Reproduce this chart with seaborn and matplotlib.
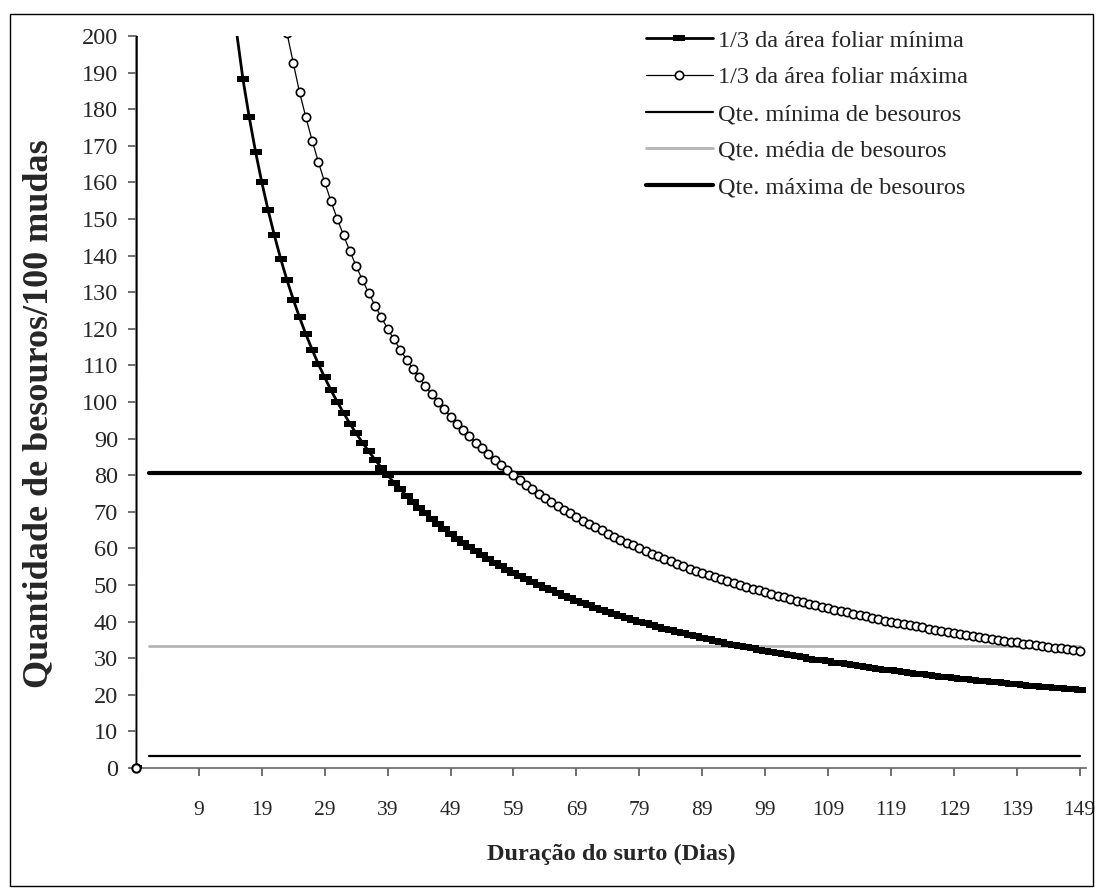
import matplotlib
matplotlib.use("Agg")
import matplotlib.pyplot as plt
import seaborn as sns
import pandas as pd
from matplotlib.patches import Rectangle

# ---------------- data ----------------
days = list(range(0, 151))  # category positions (0 = origin point)

min_leaf = [0,
    3200, 1600, 1066.7, 800, 640, 533.3, 457.1, 400, 355.6, 320,
    290.9, 266.7, 246.2, 228.6, 213.3, 200.9, 188.2, 177.8, 168.4, 160,
    152.4, 145.5, 139.1, 133.3, 128, 123.1, 118.5, 114.3, 110.3, 106.7,
    103.2, 100, 97.0, 94.1, 91.4, 88.9, 86.5, 84.2, 82.1, 80,
    78.0, 76.2, 74.4, 72.7, 71.1, 69.6, 68.1, 66.7, 65.3, 64,
    62.7, 61.5, 60.4, 59.3, 58.2, 57.1, 56.1, 55.2, 54.2, 53.3,
    52.5, 51.6, 50.8, 50, 49.2, 48.5, 47.8, 47.1, 46.4, 45.7,
    45.1, 44.4, 43.8, 43.2, 42.7, 42.1, 41.6, 41.0, 40.5, 40,
    39.5, 39.0, 38.6, 38.1, 37.6, 37.2, 36.8, 36.4, 36.0, 35.6,
    35.2, 34.8, 34.4, 34.0, 33.7, 33.3, 33.0, 32.7, 32.3, 32,
    31.7, 31.4, 31.1, 30.8, 30.5, 30.2, 29.9, 29.6, 29.4, 29.1,
    28.8, 28.6, 28.3, 28.1, 27.8, 27.6, 27.4, 27.1, 26.9, 26.7,
    26.4, 26.2, 26.0, 25.8, 25.6, 25.4, 25.2, 25, 24.8, 24.6,
    24.4, 24.2, 24.1, 23.9, 23.7, 23.5, 23.4, 23.2, 23.0, 22.9,
    22.7, 22.5, 22.4, 22.2, 22.1, 21.9, 21.8, 21.6, 21.5, 21.3]

max_leaf = [0,
    4800, 2400, 1600, 1200, 960, 800, 685.7, 600, 533.3, 480,
    436.4, 400, 369.2, 342.9, 320, 300, 282.4, 266.7, 252.6, 240,
    228.6, 218.2, 208.7, 200.8, 192.6, 184.6, 177.8, 171.4, 165.5, 160,
    154.8, 150, 145.5, 141.2, 137.1, 133.3, 129.7, 126.3, 123.1, 120,
    117.1, 114.3, 111.6, 109.1, 106.7, 104.3, 102.1, 100, 98.0, 96,
    94.1, 92.3, 90.6, 88.9, 87.3, 85.7, 84.2, 82.8, 81.4, 80,
    78.7, 77.4, 76.2, 75, 73.8, 72.7, 71.6, 70.6, 69.6, 68.6,
    67.6, 66.7, 65.8, 64.9, 64, 63.2, 62.3, 61.5, 60.8, 60,
    59.3, 58.5, 57.8, 57.1, 56.5, 55.8, 55.2, 54.5, 53.9, 53.3,
    52.7, 52.2, 51.6, 51.1, 50.5, 50, 49.5, 49.0, 48.5, 48,
    47.5, 47.1, 46.6, 46.2, 45.7, 45.3, 44.9, 44.4, 44.0, 43.6,
    43.2, 42.9, 42.5, 42.1, 41.7, 41.4, 41.0, 40.7, 40.3, 40,
    39.7, 39.3, 39.0, 38.7, 38.4, 38.1, 37.8, 37.5, 37.2, 36.9,
    36.6, 36.4, 36.1, 35.8, 35.6, 35.3, 35.0, 34.8, 34.5, 34.3,
    34.0, 33.8, 33.6, 33.3, 33.1, 32.9, 32.7, 32.4, 32.2, 32]

qte_min = 3.2
qte_media = 33.4
qte_max = 80.6

tick_positions = [10, 20, 30, 40, 50, 60, 70, 80, 90, 100, 110, 120, 130, 140, 150]
tick_labels = ["9", "19", "29", "39", "49", "59", "69", "79", "89", "99",
               "109", "119", "129", "139", "149"]
y_ticks = list(range(0, 201, 10))

labels = ["1/3 da área foliar mínima", "1/3 da área foliar máxima",
          "Qte. mínima de besouros", "Qte. média de besouros",
          "Qte. máxima de besouros"]

# ---------------- figure ----------------
sns.set_theme(style="white")
plt.rcParams["font.family"] = ["Liberation Serif", "DejaVu Serif"]

fig = plt.figure(figsize=(11, 8.9), dpi=100)
ax = fig.add_axes([136 / 1100, 1 - 768 / 890, (1086 - 136) / 1100, (768 - 36) / 890])

df = pd.DataFrame({"dia": days, "min": min_leaf, "max": max_leaf})
h_days = days[2:]

bar_marker = [(-1, -0.45), (1, -0.45), (1, 0.45), (-1, 0.45), (-1, -0.45)]

sns.lineplot(data=df, x="dia", y="min", ax=ax, color="black", lw=2.0,
             marker=bar_marker, markersize=9, markeredgewidth=0,
             markerfacecolor="black", label=labels[0], zorder=4)
sns.lineplot(data=df, x="dia", y="max", ax=ax, color="black", lw=0.9,
             marker="o", markersize=6, markeredgewidth=1.2,
             markerfacecolor="white", markeredgecolor="black",
             label=labels[1], zorder=5)
# origin point of the max series (sits on the axes corner, so not clipped)
sns.scatterplot(x=days[:1], y=max_leaf[:1], ax=ax, marker="o", s=36,
                facecolor="white", edgecolor="black", linewidth=1.5,
                clip_on=False, zorder=6, legend=False)
sns.lineplot(x=h_days, y=[qte_min] * len(h_days), ax=ax, color="black",
             lw=1.6, label=labels[2], zorder=3)
sns.lineplot(x=h_days, y=[qte_media] * len(h_days), ax=ax, color="#b4b4b4",
             lw=2.0, label=labels[3], zorder=3)
sns.lineplot(x=h_days, y=[qte_max] * len(h_days), ax=ax, color="black",
             lw=3.0, label=labels[4], zorder=3)

handles, lbls = ax.get_legend_handles_labels()
if ax.get_legend() is not None:
    ax.get_legend().remove()

ax.set_xlim(0, 151)
ax.set_ylim(0, 200)

ax.set_xticks(tick_positions)
ax.set_xticklabels(tick_labels)
ax.set_yticks(y_ticks)
ax.set_yticklabels([str(v) for v in y_ticks])

for s in ["top", "right"]:
    ax.spines[s].set_visible(False)
for s in ["left", "bottom"]:
    ax.spines[s].set_color("#666666")
    ax.spines[s].set_linewidth(1.2)

ax.tick_params(axis="x", direction="out", length=6, width=1.2, color="#555555",
               labelsize=15.5, pad=18, bottom=True)
ax.tick_params(axis="y", direction="out", length=6, width=1.2, color="#555555",
               labelsize=17.5, pad=7, left=True)

ax.set_xlabel("Duração do surto (Dias)", fontsize=17.5, fontweight="bold",
              labelpad=17)
ax.set_ylabel("Quantidade de besouros/100 mudas", fontsize=26,
              fontweight="bold")
ax.yaxis.set_label_coords(-0.085, 0.484)
ax.grid(False)

# legend
leg = fig.legend(handles, lbls, loc="upper left",
                 bbox_to_anchor=(636 / 1100, 1 - 20 / 890), frameon=False,
                 fontsize=17.5, handlelength=2.75, handletextpad=0.22,
                 labelspacing=0.605, borderaxespad=0)

# outer border
fig.patches.append(Rectangle((10 / 1100, 1 - 886 / 890), (1093 - 10) / 1100,
                             (886 - 14) / 890, transform=fig.transFigure,
                             fill=False, edgecolor="black", lw=1.0))

fig.savefig("out.png", dpi=100)
